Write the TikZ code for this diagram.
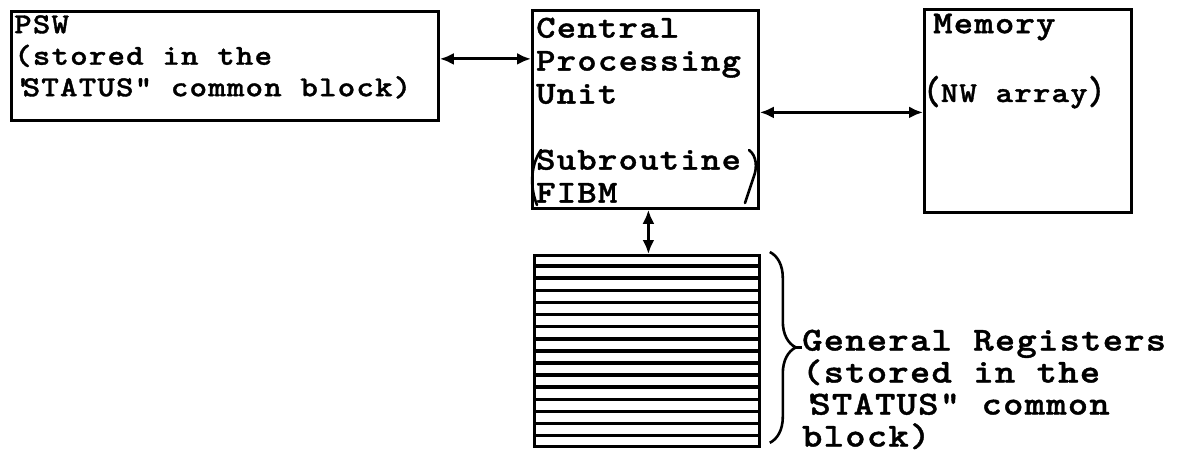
\documentclass[tikz,border=0pt]{standalone}
\usepackage{fontspec}
\usepackage{graphicx}
\usetikzlibrary{arrows.meta,positioning,calc,decorations.pathreplacing}
\newfontfamily\twfont[Extension=.otf, FakeStretch=1.15, FakeBold=1.2, LetterSpace=4]{lmmonolt10-bold}
\newcommand\pswfont{\twfont\fontsize{29}{31.5}\selectfont}
\newcommand\cpufont{\twfont\fontsize{32}{33}\selectfont}
\newcommand\memfont{\twfont\fontsize{32}{33}\selectfont}
\newcommand\nwfont{\twfont\fontsize{29}{33}\selectfont}
\newcommand\genfont{\twfont\fontsize{33.5}{32}\selectfont}
\newcommand\tallparen[1]{\raisebox{-2pt}{\scalebox{1}[1.4]{#1}}}

\begin{document}
\begin{tikzpicture}[x=1pt, y=-1pt,
  box/.style={draw, line width=2.8pt, inner sep=0pt, anchor=north west},
  txt/.style={anchor=north west, align=left, inner sep=0pt},
  arr/.style={{Latex[length=14pt,width=12pt]}-{Latex[length=14pt,width=12pt]}, line width=3pt},
  stripe/.style={line width=3.6pt},
  paren/.style={line width=2.6pt, line cap=round},
  regbrace/.style={decorate, decoration={brace, amplitude=26pt}, line width=2.6pt}]
\useasboundingbox (0,0) rectangle (1180,457);
% boxes
\node[box, minimum width=427pt, minimum height=109pt] (psw) at (10,10) {};
\node[box, minimum width=226pt, minimum height=198pt] (cpu) at (531,9) {};
\node[box, minimum width=207pt, minimum height=203pt] (mem) at (923,8) {};
\node[box, minimum width=225pt, minimum height=191pt] (regs) at (533,254) {};
% texts
\node[txt, font=\pswfont] (pswtxt) at (14,15) {PSW\\(stored in the\\'\kern-9pt STATUS" common block)};
\node[txt, font=\cpufont] (cputxt) at (536,17.5) {Central\\Processing\\Unit\\[33pt]Subroutine\\FIBM};
\node[txt, font=\memfont] (memtxt) at (933,13.5) {Memory};
\node[txt, font=\nwfont, anchor=base west] (nwtxt) at (923,102) {\tallparen{(}NW array\tallparen{)}};
\node[txt, font=\genfont] (gentxt) at (802,329.5) {General Registers\\(stored in the\\'\kern-12pt STATUS" common\\block)};
% hand-drawn parentheses round Subroutine FIBM
\draw[paren] (541,150) .. controls (530,166) and (530,188) .. (537,205);
\draw[paren] (749,150) .. controls (757,156) and (757,168) .. (754,176) -- (745,203);
% register stripes
\foreach \k in {1,...,15}
  \draw[stripe] ($(regs.north west)!{\k/16}!(regs.south west)$) -- ($(regs.north east)!{\k/16}!(regs.south east)$);
% connectors
\draw[arr] ([yshift=7pt]psw.east) -- ([yshift=7pt]psw.east -| cpu.west);
\draw[arr] ([yshift=-3pt]cpu.east) -- ([yshift=-3pt]cpu.east -| mem.west);
\draw[arr] ([xshift=3pt]cpu.south) -- ([xshift=3pt]cpu.south |- regs.north);
% brace
\coordinate (bt) at ([xshift=9pt,yshift=2pt]regs.north east);
\coordinate (bb) at ([xshift=9pt,yshift=5pt]regs.south east);
\coordinate (tip) at ($(bt)!0.5!(bb)+(26,0)$);
\draw[regbrace] (bt) -- (bb);
\draw[line width=2.6pt] (tip) -- (tip -| gentxt.west);
\end{tikzpicture}
\end{document}
